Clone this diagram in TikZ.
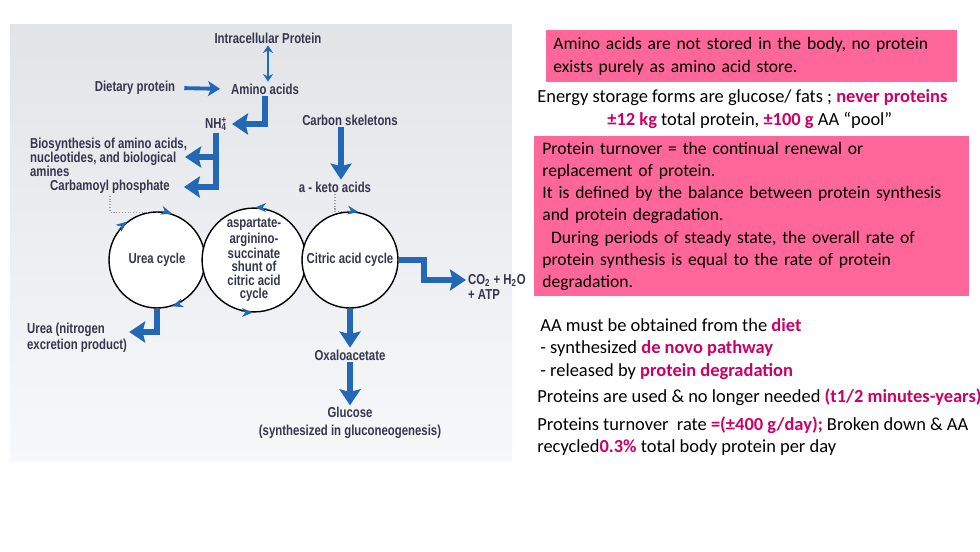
\documentclass[tikz,border=0pt]{standalone}
\usepackage{fontspec}
\setmainfont{Carlito}
\newfontfamily\diagfont[FakeStretch=0.79]{Liberation Sans}
\usetikzlibrary{positioning,arrows.meta,calc}
\definecolor{flowBlue}{HTML}{2268B5}
\definecolor{diagInk}{HTML}{34374D}
\definecolor{notePink}{HTML}{FF6699}
\definecolor{keyMagenta}{HTML}{CC0066}
\definecolor{panelTop}{HTML}{E2E4E8}
\definecolor{panelBottom}{HTML}{F7F8FA}
\newcommand{\hl}[1]{\textbf{\textcolor{keyMagenta}{#1}}}

\begin{document}
\begin{tikzpicture}[x=0.02cm, y=0.02cm,
    diagLabel/.style={font=\diagfont\bfseries\fontsize{8.2}{8}\selectfont, text=diagInk, inner sep=1pt, align=center},
    cycleNode/.style={circle, draw=black, line width=0.8pt, fill=white, minimum size=1.92cm, inner sep=0pt, diagLabel},
    flowArrow/.style={draw=flowBlue, line width=3.4pt, -{Stealth[length=0.32cm,width=0.42cm,inset=0.05cm]}},
    dietArrow/.style={draw=flowBlue, line width=2.2pt, -{Stealth[length=0.24cm,width=0.3cm,inset=0.06cm]}, shorten <=0.14cm, shorten >=0.18cm},
    pairArrow/.style={draw=flowBlue, line width=1.4pt, {Stealth[length=0.15cm,width=0.2cm]}-{Stealth[length=0.15cm,width=0.2cm]}},
    cycleTip/.style={draw=flowBlue, line width=0.4pt, -{Stealth[length=0.22cm,width=0.18cm]}},
    dotLink/.style={draw=gray!75, densely dotted, line width=0.6pt},
    noteBox/.style={fill=notePink, font=\fontsize{10}{12.6}\selectfont, align=left, anchor=north west},
    noteText/.style={font=\fontsize{10.5}{12.6}\selectfont, align=left, inner sep=0pt, anchor=west}
]
    \useasboundingbox (0,0) rectangle (980,551);
    \fill[white] (0,0) rectangle (980,551);
    \shade[top color=panelTop, bottom color=panelBottom] (10,89) rectangle (512,526);

    % metabolic map
    \node[diagLabel] (intra) at (268,513) {Intracellular Protein};
    \node[diagLabel] (amino) at (265,462) {Amino acids};
    \node[diagLabel] (diet) at (135,463) {Dietary protein};
    \node[diagLabel] (nh4) at (216,427) {NH\rlap{\textsuperscript{+}}\textsubscript{4}};
    \node[diagLabel, align=left, anchor=west] (bio) at (28,394) {Biosynthesis of amino acids,\\nucleotides, and biological\\amines};
    \node[diagLabel] (carb) at (110,364) {Carbamoyl phosphate};
    \node[diagLabel] (carbon) at (350,431) {Carbon skeletons};
    \node[diagLabel] (keto) at (335,364) {a - keto acids};

    \node[cycleNode] (urea) at (157,291) {Urea cycle};
    \node[cycleNode, font=\diagfont\bfseries\fontsize{8.2}{7.6}\selectfont] (shunt) at (254,291) {aspartate-\\arginino-\\succinate\\shunt of\\citric acid\\cycle};
    \node[cycleNode] (citric) at (350,291) {Citric acid cycle};

    \node[diagLabel, align=left, anchor=west, font=\diagfont\bfseries\fontsize{8.2}{9}\selectfont] (ureaout) at (25,213) {Urea (nitrogen\\excretion product)};
    \node[diagLabel, align=left, anchor=west, font=\diagfont\bfseries\fontsize{8.2}{8.5}\selectfont] (co2) at (466,264) {CO\textsubscript{2} + H\textsubscript{2}O\\+ ATP};
    \node[diagLabel] (oxalo) at (350,196) {Oxaloacetate};
    \node[diagLabel, font=\diagfont\bfseries\fontsize{8.2}{10}\selectfont] (gluc) at (350,128) {Glucose\\(synthesized in gluconeogenesis)};

    \draw[pairArrow] (intra.south) -- (intra.south |- amino.north);
    \draw[dietArrow] (diet.east) -- (amino.west);
    \draw[flowArrow, shorten >=0.06cm] (amino.south) |- (nh4.east);
    \draw[flowArrow] (nh4.south) |- ([xshift=-0.08cm]bio.east);
    \draw[flowArrow] (nh4.south) |- ([xshift=0.24cm]carb.east);
    \draw[flowArrow] ([xshift=-0.18cm]carbon.south) -- ([xshift=-0.18cm]carbon.south |- keto.north);
    \draw[flowArrow] (urea.south) |- ([yshift=0.12cm]ureaout.east);
    \draw[flowArrow] (citric.east) -- ++(25,0) |- ([yshift=0.14cm]co2.west);
    \draw[flowArrow] (citric.south) -- (oxalo.north);
    \draw[flowArrow] (oxalo.south) -- (gluc.north);

    \draw[dotLink] (carb.south) |- (urea.100);
    \draw[dotLink] (keto.south) |- (citric.north);

    % direction marks on the cycles
    \draw[cycleTip] (urea.142) arc[start angle=142, end angle=128, radius=0.96cm];
    \draw[cycleTip] (urea.86) arc[start angle=86, end angle=72, radius=0.96cm];
    \draw[cycleTip] (urea.-58) arc[start angle=-58, end angle=-72, radius=0.96cm];
    \draw[cycleTip] (shunt.76) arc[start angle=76, end angle=90, radius=0.96cm];
    \draw[cycleTip] (shunt.-104) arc[start angle=-104, end angle=-90, radius=0.96cm];
    \draw[cycleTip] (citric.94) arc[start angle=94, end angle=80, radius=0.96cm];

    % notes
    \node[noteBox, text width=7.94cm, minimum height=1.04cm, inner xsep=0.14cm] (store) at (546,521)
        {Amino acids are not stored in the body, no protein\\exists purely as amino acid store.};
    \node[noteText] (energy) at (537,453) {Energy storage forms are glucose/ fats ; \hl{never proteins}};
    \node[noteText] (pool) at (607,431) {\hl{±12 kg} total protein, \hl{±100 g} AA “pool”};
    \node[noteBox, text width=8.38cm, minimum height=3.2cm, inner xsep=0.16cm] (turnover) at (534,415)
        {Protein turnover = the continual renewal or\\replacement of protein.\\It is defined by the balance between protein synthesis\\and protein degradation.\\\hspace*{0.5em}During periods of steady state, the overall rate of\\protein synthesis is equal to the rate of protein\\degradation.};
    \node[noteText] (sources) at (540,202) {AA must be obtained from the \hl{diet}\\- synthesized \hl{de novo pathway}\\- released by \hl{protein degradation}};
    \node[noteText] (used) at (537,154) {Proteins are used \& no longer needed \hl{(t1/2 minutes-years)}};
    \node[noteText] (rate) at (537,115) {Proteins turnover\ \ rate \hl{=(±400 g/day);} Broken down \& AA\\recycled\hl{0.3\%} total body protein per day};
\end{tikzpicture}
\end{document}
